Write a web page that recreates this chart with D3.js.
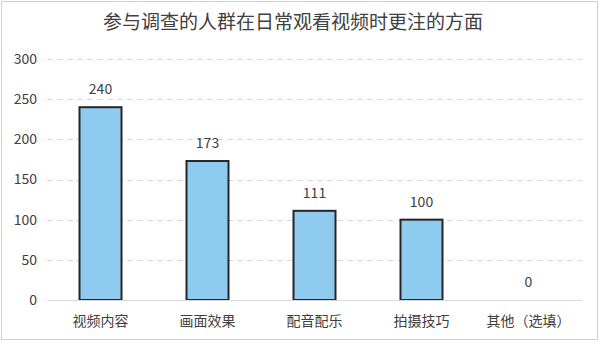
<!DOCTYPE html>
<html>
<head>
<meta charset="utf-8">
<script src="https://cdn.jsdelivr.net/npm/d3@7"></script>
<style>
    body { margin: 0; background: #fff; }
    text { font-family: "Noto Sans CJK SC", "Noto Sans", sans-serif; fill: #404040; }
</style>
</head>
<body>
<div id="chart"></div>
<script>
const title = "参与调查的人群在日常观看视频时更注的方面";
const categories = ["视频内容", "画面效果", "配音配乐", "拍摄技巧", "其他（选填）"];
const values = [240, 173, 111, 100, 0];
const yTicks = [0, 50, 100, 150, 200, 250, 300];

const W = 600, H = 351;
const margin = {top: 59, right: 18, bottom: 51, left: 47};
const width = 582 - margin.left,
    height = 300 - margin.top;

const svg = d3.select("#chart").append("svg")
    .attr("width", W)
    .attr("height", H);

// outer frame
svg.append("rect")
    .attr("x", 1.5).attr("y", 1.5)
    .attr("width", 596).attr("height", 338)
    .attr("fill", "#fff")
    .attr("stroke", "#d0d0d0");

svg.append("text")
    .attr("x", 293).attr("y", 29)
    .attr("text-anchor", "middle")
    .style("font-size", "19px")
    .text(title);

const chart = svg.append("g")
    .attr("transform", `translate(${margin.left},${margin.top})`);

const xc = d3.scaleBand().domain(categories).range([0, width]);
const y = d3.scaleLinear().domain([0, 300]).range([height, 0]);

// gridlines
chart.selectAll(".grid")
    .data(yTicks.filter(d => d > 0))
    .join("line")
    .attr("class", "grid")
    .attr("x1", 0).attr("x2", width)
    .attr("y1", d => Math.round(y(d)) + 0.5)
    .attr("y2", d => Math.round(y(d)) + 0.5)
    .attr("stroke", "#d9d9d9")
    .attr("stroke-dasharray", "6,4");

// y axis labels
const yAxis = chart.append("g")
    .call(d3.axisLeft(y).tickValues(yTicks).tickSize(0).tickPadding(10));
yAxis.select(".domain").remove();
yAxis.selectAll("text").style("font-size", "14px").attr("fill", "#404040");

// bars
chart.selectAll(".bar")
    .data(values)
    .join("rect")
    .attr("class", "bar")
    .attr("x", (d, i) => xc(categories[i]) + xc.bandwidth() / 2 - 21)
    .attr("width", 42)
    .attr("y", d => y(d))
    .attr("height", d => height - y(d))
    .attr("fill", "#8fcbef")
    .attr("stroke", "#262626")
    .attr("stroke-width", 2)
    .style("display", d => d === 0 ? "none" : null);

// baseline
chart.append("line")
    .attr("x1", 0).attr("x2", width)
    .attr("y1", height + 0.5).attr("y2", height + 0.5)
    .attr("stroke", "#d9d9d9");

// value labels
chart.selectAll(".val")
    .data(values)
    .join("text")
    .attr("class", "val")
    .attr("x", (d, i) => xc(categories[i]) + xc.bandwidth() / 2)
    .attr("y", d => y(d) - 13)
    .attr("text-anchor", "middle")
    .style("font-size", "14px")
    .text(d => d);

// x axis labels
chart.selectAll(".cat")
    .data(categories)
    .join("text")
    .attr("class", "cat")
    .attr("x", d => xc(d) + xc.bandwidth() / 2)
    .attr("y", height + 26)
    .attr("text-anchor", "middle")
    .style("font-size", "14px")
    .text(d => d);
</script>
</body>
</html>
